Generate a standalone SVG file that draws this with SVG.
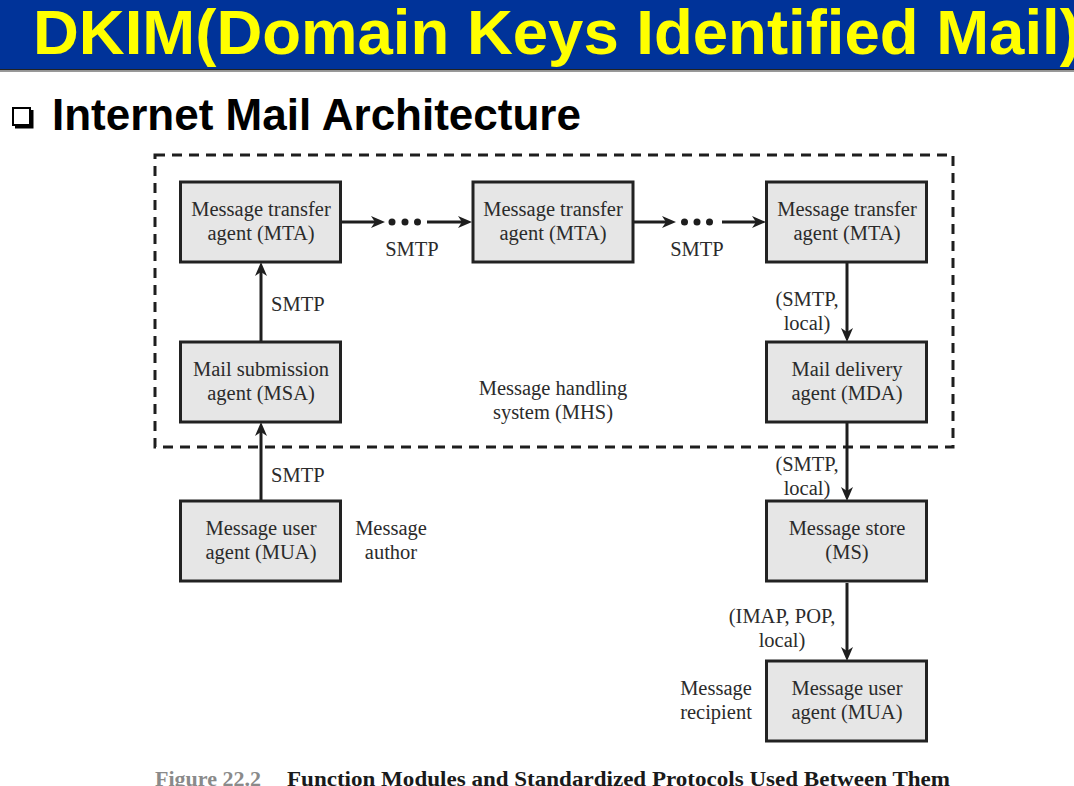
<svg xmlns="http://www.w3.org/2000/svg" width="1074" height="786" viewBox="0 0 1074 786">
<style>
.title{font-family:"Liberation Sans",Arial,sans-serif;font-weight:bold;font-size:63.5px;fill:#ffff00}
.sub{font-family:"Liberation Sans",Arial,sans-serif;font-weight:bold;font-size:44px;fill:#000}
.box{fill:#e6e6e6;stroke:#222;stroke-width:3}
.t{font-family:"Liberation Serif","Times New Roman",serif;font-size:20.5px;fill:#2b2b2b;text-anchor:middle}
.tl{font-family:"Liberation Serif","Times New Roman",serif;font-size:20.5px;fill:#2b2b2b}
.conn{stroke:#1e1e1e;stroke-width:3;fill:none}
.cap{font-family:"Liberation Serif","Times New Roman",serif;font-weight:bold;font-size:22px}
</style>
<defs>
<marker id="ah" viewBox="0 0 14 12" refX="6" refY="6" markerWidth="14" markerHeight="12" markerUnits="userSpaceOnUse" orient="auto">
<path d="M0,0 L14,6 L0,12 L4,6 z" fill="#1e1e1e"/>
</marker>
</defs>
<rect width="1074" height="786" fill="#fff"/>
<g id="header">
<rect x="0" y="0" width="1074" height="69" fill="#003399"/>
<rect x="0" y="69" width="1074" height="1.5" fill="#222"/>
<rect x="0" y="70.5" width="1074" height="1.5" fill="#999"/>
<text class="title" x="33" y="54">DKIM(Domain Keys Identified Mail)</text>
</g>
<g id="subtitle">
<rect x="13" y="108" width="17" height="17" fill="#fff" stroke="#000" stroke-width="2"/>
<path d="M15,127 H32 V110" fill="none" stroke="#000" stroke-width="3"/>
<text class="sub" x="52" y="130">Internet Mail Architecture</text>
</g>
<g id="mhs">
<rect x="155" y="155" width="798" height="292" fill="none" stroke="#1e1e1e" stroke-width="3" stroke-dasharray="10 7"/>
<text class="t" x="553" y="395">Message handling</text>
<text class="t" x="553" y="419">system (MHS)</text>
</g>
<g id="connectors">
<line class="conn" x1="342" y1="222" x2="377" y2="222" marker-end="url(#ah)"/>
<circle cx="392" cy="222" r="3.5" fill="#1e1e1e"/>
<circle cx="405" cy="222" r="3.5" fill="#1e1e1e"/>
<circle cx="417.5" cy="222" r="3.5" fill="#1e1e1e"/>
<line class="conn" x1="427" y1="222" x2="464" y2="222" marker-end="url(#ah)"/>
<text class="t" x="412" y="256">SMTP</text>
<line class="conn" x1="634" y1="222" x2="668" y2="222" marker-end="url(#ah)"/>
<circle cx="684.5" cy="222" r="3.5" fill="#1e1e1e"/>
<circle cx="697" cy="222" r="3.5" fill="#1e1e1e"/>
<circle cx="709.5" cy="222" r="3.5" fill="#1e1e1e"/>
<line class="conn" x1="722" y1="222" x2="758" y2="222" marker-end="url(#ah)"/>
<text class="t" x="697" y="256">SMTP</text>
<line class="conn" x1="261" y1="341" x2="261" y2="270" marker-end="url(#ah)"/>
<text class="tl" x="271" y="311">SMTP</text>
<line class="conn" x1="261" y1="500" x2="261" y2="430" marker-end="url(#ah)"/>
<text class="tl" x="271" y="482">SMTP</text>
<line class="conn" x1="847" y1="263" x2="847" y2="334" marker-end="url(#ah)"/>
<text class="t" x="807" y="306">(SMTP,</text>
<text class="t" x="807" y="330">local)</text>
<line class="conn" x1="847" y1="423" x2="847" y2="493" marker-end="url(#ah)"/>
<text class="t" x="807" y="471">(SMTP,</text>
<text class="t" x="807" y="495">local)</text>
<line class="conn" x1="847" y1="583" x2="847" y2="653" marker-end="url(#ah)"/>
<text class="t" x="782" y="623">(IMAP, POP,</text>
<text class="t" x="782" y="647">local)</text>
</g>
<g id="mta1">
<rect class="box" x="180.5" y="182" width="160" height="80"/>
<text class="t" x="261" y="216">Message transfer</text>
<text class="t" x="261" y="240">agent (MTA)</text>
</g>
<g id="mta2">
<rect class="box" x="473" y="182" width="160" height="80"/>
<text class="t" x="553" y="216">Message transfer</text>
<text class="t" x="553" y="240">agent (MTA)</text>
</g>
<g id="mta3">
<rect class="box" x="766.5" y="182" width="160" height="80"/>
<text class="t" x="847" y="216">Message transfer</text>
<text class="t" x="847" y="240">agent (MTA)</text>
</g>
<g id="msa">
<rect class="box" x="180.5" y="342" width="160" height="80"/>
<text class="t" x="261" y="376">Mail submission</text>
<text class="t" x="261" y="400">agent (MSA)</text>
</g>
<g id="mda">
<rect class="box" x="766.5" y="342" width="160" height="80"/>
<text class="t" x="847" y="376">Mail delivery</text>
<text class="t" x="847" y="400">agent (MDA)</text>
</g>
<g id="mua1">
<rect class="box" x="180.5" y="501" width="160" height="80"/>
<text class="t" x="261" y="535">Message user</text>
<text class="t" x="261" y="559">agent (MUA)</text>
<text class="t" x="391" y="535">Message</text>
<text class="t" x="391" y="559">author</text>
</g>
<g id="ms">
<rect class="box" x="766.5" y="501" width="160" height="80"/>
<text class="t" x="847" y="535">Message store</text>
<text class="t" x="847" y="559">(MS)</text>
</g>
<g id="mua2">
<rect class="box" x="766.5" y="661" width="160" height="80"/>
<text class="t" x="847" y="695">Message user</text>
<text class="t" x="847" y="719">agent (MUA)</text>
<text class="t" x="716" y="695">Message</text>
<text class="t" x="716" y="719">recipient</text>
</g>
<g id="caption">
<text class="cap" x="155" y="786" fill="#8a8a8a" textLength="106" lengthAdjust="spacingAndGlyphs">Figure 22.2</text>
<text class="cap" x="287" y="786" fill="#1a1a1a" textLength="663" lengthAdjust="spacingAndGlyphs">Function Modules and Standardized Protocols Used Between Them</text>
</g>
</svg>
